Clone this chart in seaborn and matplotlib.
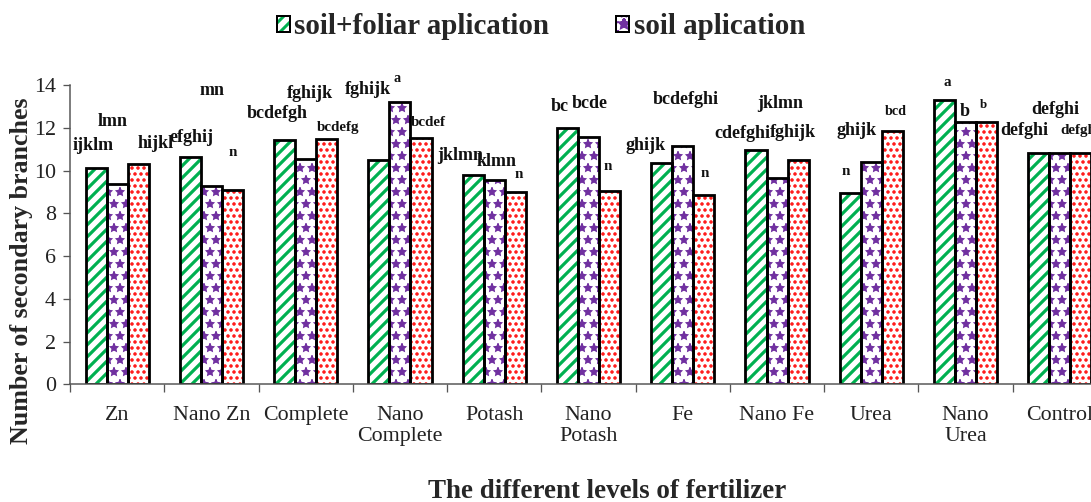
import numpy as np
import pandas as pd
import matplotlib
matplotlib.use("Agg")
import matplotlib.pyplot as plt
import seaborn as sns
from matplotlib.patches import Rectangle, Patch
from matplotlib.ticker import FixedLocator
from matplotlib.legend_handler import HandlerTuple

# ---------------- data ----------------
categories = ["Zn", "Nano Zn", "Complete", "Nano\nComplete", "Potash",
              "Nano\nPotash", "Fe", "Nano Fe", "Urea", "Nano\nUrea", "Control"]
series_names = ["soil+foliar aplication", "soil aplication", "foliar aplication"]

soil_foliar = [10.13, 10.62, 11.41, 10.51, 9.79, 12.00, 10.37, 10.97, 8.95, 13.30, 10.83]
soil = [9.37, 9.29, 10.52, 13.19, 9.56, 11.57, 11.13, 9.66, 10.38, 12.25, 10.83]
foliar = [10.32, 9.07, 11.46, 11.50, 8.99, 9.06, 8.87, 10.51, 11.83, 12.25, 10.83]

letters_soil_foliar = ["ijklm", "efghij", "bcdefgh", "fghijk", "jklmn", "bc",
                       "ghijk", "cdefghi", "n", "a", "defghi"]
letters_soil = ["lmn", "mn", "fghijk", "a", "klmn", "bcde",
                "bcdefghi", "jklmn", "ghijk", "b", "defghi"]
letters_foliar = ["hijkl", "n", "bcdefg", "bcdef", "n", "n",
                  "n", "fghijk", "bcd", "b", "defghi"]

y_ticks = [0, 2, 4, 6, 8, 10, 12, 14]

# ---------------- layout of the letter labels (placement only) ----------------
lab_dx = [
    [-0.257, -0.045, 0.411],
    [-0.207, 0.005, 0.225],
    [-0.305, 0.046, 0.343],
    [-0.339, -0.035, 0.297],
    [-0.364, 0.029, 0.262],
    [-0.303, 0.015, 0.206],
    [-0.390, 0.034, 0.235],
    [-0.362, 0.031, 0.169],
    [-0.269, -0.153, 0.260],
    [-0.198, -0.006, 0.185],
    [-0.381, -0.052, 0.213],
]
lab_y = [
    [11.19, 12.28, 11.27],
    [11.53, 13.73, 10.83],
    [12.68, 13.61, 11.99],
    [13.80, 14.31, 12.24],
    [10.68, 10.41, 9.80],
    [12.98, 13.14, 10.18],
    [11.19, 13.30, 9.87],
    [11.71, 13.14, 11.77],
    [9.94, 11.89, 12.75],
    [14.11, 12.75, 13.06],
    [11.86, 12.86, 11.86],
]
lab_fs = [
    [18, 18, 18],
    [18, 18, 15],
    [18, 18, 15],
    [18, 14, 15],
    [18, 18, 15],
    [18, 18, 15],
    [18, 18, 15],
    [18, 18, 18],
    [15, 18, 14],
    [15, 18, 13],
    [18, 18, 15],
]

green = "#00B050"
purple = "#7030A0"
red = "#FF0000"

sns.set_style("white")
plt.rcParams["font.family"] = ["Liberation Serif", "DejaVu Serif"]
plt.rcParams["hatch.linewidth"] = 3.0

df = pd.DataFrame({
    "fertilizer": categories * 3,
    "treatment": [series_names[0]] * 11 + [series_names[1]] * 11 + [series_names[2]] * 11,
    "value": soil_foliar + soil + foliar,
})

DPI = 72
fig = plt.figure(figsize=(1091 / DPI, 502 / DPI), dpi=DPI)
ax = fig.add_axes([70 / 1091, (502 - 384.3) / 502, 1037 / 1091, 299.3 / 502])

sns.barplot(data=df, x="fertilizer", y="value", hue="treatment",
            order=categories, hue_order=series_names,
            width=0.67, gap=0, errorbar=None, legend=False, ax=ax,
            palette=["white", "white", "white"])

styles = [(green, "//", 3.2), (purple, "*", 1.2), (red, "..", 2.2)]
for cont, (col, hatch, hlw) in zip(ax.containers, styles):
    for p in cont.patches:
        p.set_facecolor("white")
        p.set_edgecolor(col)
        p.set_linewidth(0)
        p.set_hatch(hatch)
        if hasattr(p, "set_hatch_linewidth"):
            p.set_hatch_linewidth(hlw)
        ax.add_patch(Rectangle((p.get_x(), p.get_y()), p.get_width(), p.get_height(),
                               fill=False, edgecolor="black", linewidth=2.8,
                               zorder=p.get_zorder() + 0.1))

# letter annotations
all_letters = [letters_soil_foliar, letters_soil, letters_foliar]
for i in range(len(categories)):
    for s in range(3):
        ax.text(i + lab_dx[i][s], lab_y[i][s], all_letters[s][i],
                ha="center", va="center", fontsize=lab_fs[i][s],
                fontweight="bold", clip_on=False, color="#111111")

ax.set_ylim(0, 14)
ax.set_xlim(-0.5, len(categories) - 0.5)
ax.set_yticks(y_ticks)
ax.set_xlabel("")
ax.set_ylabel("")

ax.tick_params(axis="x", which="major", length=0, pad=22, labelsize=22, colors="#222222")
ax.xaxis.set_minor_locator(FixedLocator(np.arange(-0.5, len(categories), 1.0)))
ax.tick_params(axis="x", which="minor", length=8, width=1.3, color="#555555", direction="out", bottom=True)
ax.tick_params(axis="y", length=7, width=1.3, color="#555555", direction="out", left=True,
               pad=7, labelsize=22, labelcolor="#222222")
for lab in ax.get_xticklabels():
    lab.set_linespacing(1.12)

for sp in ["top", "right"]:
    ax.spines[sp].set_visible(False)
for sp in ["left", "bottom"]:
    ax.spines[sp].set_color("#555555")
    ax.spines[sp].set_linewidth(1.5)

fig.text(22 / 1091, 1 - 271 / 502, "Number of secondary branches", rotation=90,
         ha="center", va="center", fontsize=26, fontweight="bold")
fig.text(607 / 1091, 1 - 498 / 502, "The different levels of fertilizer",
         ha="center", va="baseline", fontsize=27, fontweight="bold")

# legend (two entries only)
h1 = (Patch(facecolor="white", edgecolor=green, hatch="//", linewidth=0),
      Patch(facecolor="none", edgecolor="black", linewidth=2))
h2 = (Patch(facecolor="white", edgecolor=purple, hatch="*", linewidth=0),
      Patch(facecolor="none", edgecolor="black", linewidth=2))
fig.legend([h1, h2], series_names[:2], loc="center", ncol=2,
           bbox_to_anchor=(541 / 1091, 1 - 27 / 502), frameon=False,
           prop={"size": 29, "weight": "bold"}, handlelength=0.45, handleheight=0.45,
           handletextpad=0.15, columnspacing=2.3,
           handler_map={tuple: HandlerTuple(ndivide=1, pad=0)})

fig.savefig("out.png", dpi=DPI)
